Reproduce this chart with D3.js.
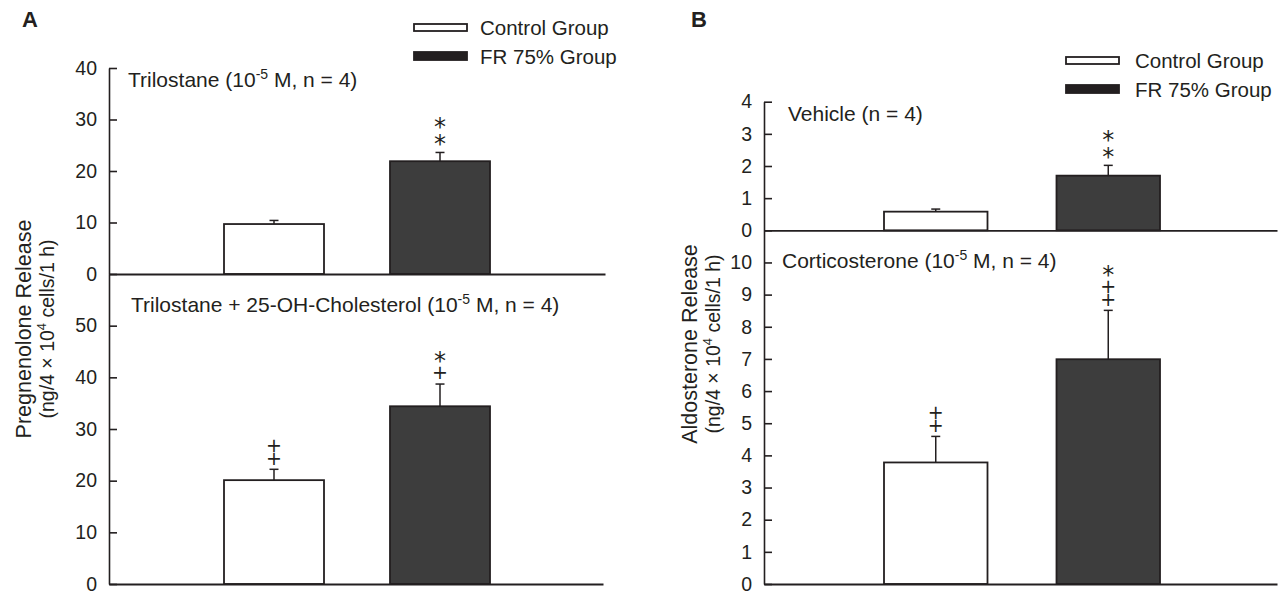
<!DOCTYPE html>
<html><head><meta charset="utf-8">
<script src="https://cdn.jsdelivr.net/npm/d3@7"></script>
<style>
body{margin:0;background:#fff;}
text{font-family:"Liberation Sans",Arial,sans-serif;fill:#231f20;}
.stack{writing-mode:vertical-rl;text-orientation:upright;font-family:"DejaVu Sans";}
</style></head>
<body>
<svg id="chart" width="1283" height="594"></svg>
<script>
// ---------- data ----------
const groups = ["Control Group", "FR 75% Group"];

const trilostaneMean = [9.7, 21.9];
const trilostaneErr  = [0.7, 1.7];
const trilostaneMarks = ["", "**"];      // read top -> bottom

const trilCholMean = [20.1, 34.4];
const trilCholErr  = [2.1, 4.3];
const trilCholMarks = ["++", "*+"];

const vehicleMean = [0.58, 1.70];
const vehicleErr  = [0.08, 0.32];
const vehicleMarks = ["", "**"];

const corticoMean = [3.78, 6.99];
const corticoErr  = [0.81, 1.52];
const corticoMarks = ["++", "*++"];

const ticksATop = [0, 10, 20, 30, 40];
const ticksABot = [0, 10, 20, 30, 40, 50];
const ticksBTop = [0, 1, 2, 3, 4];
const ticksBBot = [0, 1, 2, 3, 4, 5, 6, 7, 8, 9, 10];

// ---------- drawing ----------
const svg = d3.select("#chart");
const ink = "#231f20";
const barFill = ["#ffffff", "#3d3d3d"];

// vertical stacked marks (single text element, upright vertical writing)
const markFs = {"*": 24, "+": 19};
const cellEm = 1.164;                       // vertical advance of DejaVu Sans glyph cell
const inkCentre = {"*": 0.34, "+": 0.61};   // ink centre measured from cell top (em)
const gapBelow = {"*": 14, "+": 11};        // px from error cap to lowest mark centre
function stepBetween(upper, lower) {
  if (upper === "+" && lower === "+") return 13;
  if (upper === "*" && lower === "*") return 17;
  return 17.5;
}

function drawStack(g, cx, capY, str) {
  if (!str) return;
  const ch = str.split("");
  const n = ch.length;
  const centres = new Array(n);
  centres[n - 1] = capY - gapBelow[ch[n - 1]];
  for (let k = n - 2; k >= 0; k--) centres[k] = centres[k + 1] - stepBetween(ch[k], ch[k + 1]);
  const startY = centres[0] - inkCentre[ch[0]] * markFs[ch[0]];
  const t = g.append("text").attr("class", "stack").attr("x", cx).attr("y", startY);
  ch.forEach((c, k) => {
    let ls = 0;
    if (k < n - 1) {
      const nx = ch[k + 1];
      const want = centres[k + 1] - centres[k];
      ls = want - cellEm * markFs[c] - inkCentre[nx] * markFs[nx] + inkCentre[c] * markFs[c];
    }
    t.append("tspan").attr("font-size", markFs[c]).style("letter-spacing", ls + "px").text(c);
  });
}

function panel(cfg) {
  const g = svg.append("g");
  const y = d3.scaleLinear().domain(cfg.domain).range(cfg.yRange);
  const x = d3.scaleBand().domain(groups).range(cfg.barRange).paddingInner(cfg.pad).paddingOuter(0);
  const xFull = d3.scaleLinear().domain([0, 1]).range(cfg.axisRange);

  // y axis
  const ax = g.append("g").attr("transform", `translate(${cfg.axisRange[0]},0)`)
    .call(d3.axisLeft(y).tickValues(cfg.ticks).tickFormat(d3.format("d"))
      .tickSizeInner(-8).tickSizeOuter(0).tickPadding(12));
  ax.selectAll("path,line").attr("stroke", ink).attr("stroke-width", 1.6);
  ax.selectAll("text").attr("font-size", 19.5).attr("fill", ink)
    .attr("font-family", "Liberation Sans, Arial, sans-serif");

  // bars
  g.selectAll("rect.bar").data(cfg.mean).join("rect").attr("class", "bar")
    .attr("x", (d, i) => x(groups[i]))
    .attr("width", x.bandwidth())
    .attr("y", d => y(d))
    .attr("height", d => y(0) - y(d))
    .attr("fill", (d, i) => barFill[i])
    .attr("stroke", ink).attr("stroke-width", 1.8);

  // error bars + marks
  cfg.mean.forEach((m, i) => {
    const cx = x(groups[i]) + x.bandwidth() / 2;
    const top = y(m + cfg.err[i]);
    g.append("line").attr("x1", cx).attr("x2", cx).attr("y1", y(m)).attr("y2", top)
      .attr("stroke", ink).attr("stroke-width", 1.5);
    g.append("line").attr("x1", cx - 4.5).attr("x2", cx + 4.5).attr("y1", top).attr("y2", top)
      .attr("stroke", ink).attr("stroke-width", 1.5);
    drawStack(g, cx, top, cfg.marks[i]);
  });

  // zero baseline
  g.append("g").attr("transform", `translate(0,${y(0)})`)
    .call(d3.axisBottom(xFull).tickValues([]).tickSizeOuter(0))
    .select("path").attr("stroke", ink).attr("stroke-width", 1.8);

  // condition label
  const t = g.append("text").attr("x", cfg.label.x).attr("y", cfg.label.y)
    .attr("font-size", 21);
  cfg.label.parts.forEach(p => {
    if (p.sup) t.append("tspan").attr("dy", -8).attr("font-size", 14).text(p.t);
    else if (p.after) t.append("tspan").attr("dy", 8).text(p.t);
    else t.append("tspan").text(p.t);
  });
}

// Panel A
panel({domain: [0, 40], yRange: [274, 68], ticks: ticksATop, axisRange: [109, 605],
  barRange: [224, 490], pad: 0.3976, mean: trilostaneMean, err: trilostaneErr, marks: trilostaneMarks,
  label: {x: 128, y: 87, parts: [{t: "Trilostane (10"}, {t: "-5", sup: true}, {t: " M, n = 4)", after: true}]}});
panel({domain: [0, 60], yRange: [584, 274], ticks: ticksABot, axisRange: [109, 603],
  barRange: [224, 490], pad: 0.3976, mean: trilCholMean, err: trilCholErr, marks: trilCholMarks,
  label: {x: 131, y: 312, parts: [{t: "Trilostane + 25-OH-Cholesterol (10"}, {t: "-5", sup: true}, {t: " M, n = 4)", after: true}]}});

// Panel B
panel({domain: [0, 4], yRange: [230.3, 101.7], ticks: ticksBTop, axisRange: [764, 1277],
  barRange: [884, 1160], pad: 0.4, mean: vehicleMean, err: vehicleErr, marks: vehicleMarks,
  label: {x: 788, y: 121, parts: [{t: "Vehicle (n = 4)"}]}});
panel({domain: [0, 11], yRange: [584, 230.3], ticks: ticksBBot, axisRange: [764, 1277],
  barRange: [884, 1160], pad: 0.4, mean: corticoMean, err: corticoErr, marks: corticoMarks,
  label: {x: 782, y: 268, parts: [{t: "Corticosterone (10"}, {t: "-5", sup: true}, {t: " M, n = 4)", after: true}]}});

// panel letters
svg.append("text").attr("x", 22).attr("y", 27).attr("font-size", 22).attr("font-weight", "bold").text("A");
svg.append("text").attr("x", 691).attr("y", 27).attr("font-size", 22).attr("font-weight", "bold").text("B");

// y titles
function yTitle(cy, line1, x1, x2) {
  const g = svg.append("g");
  g.append("text").attr("transform", `translate(${x1},${cy}) rotate(-90)`)
    .attr("text-anchor", "middle").attr("font-size", 21.5).text(line1);
  const t = g.append("text").attr("transform", `translate(${x2},${cy}) rotate(-90)`)
    .attr("text-anchor", "middle").attr("font-size", 19.5);
  t.append("tspan").text("(ng/4 \u00d7 10");
  t.append("tspan").attr("dy", -8).attr("font-size", 13).text("4");
  t.append("tspan").attr("dy", 8).text(" cells/1 h)");
}
yTitle(329, "Pregnenolone Release", 31, 54);
yTitle(344, "Aldosterone Release", 697, 720);

// legends
function legend(x0, y0, textX) {
  const rows = [{y: y0, h: 7, fill: "#fff"}, {y: y0 + 28, h: 8, fill: ink}];
  rows.forEach((r, i) => {
    svg.append("rect").attr("x", x0).attr("y", r.y).attr("width", 53).attr("height", r.h)
      .attr("fill", r.fill).attr("stroke", ink).attr("stroke-width", 1.8);
    svg.append("text").attr("x", textX).attr("y", r.y + r.h / 2 + 7.5).attr("font-size", 20.5).text(groups[i]);
  });
}
legend(414, 24, 480);
legend(1066, 57, 1135);
</script>
</body></html>
